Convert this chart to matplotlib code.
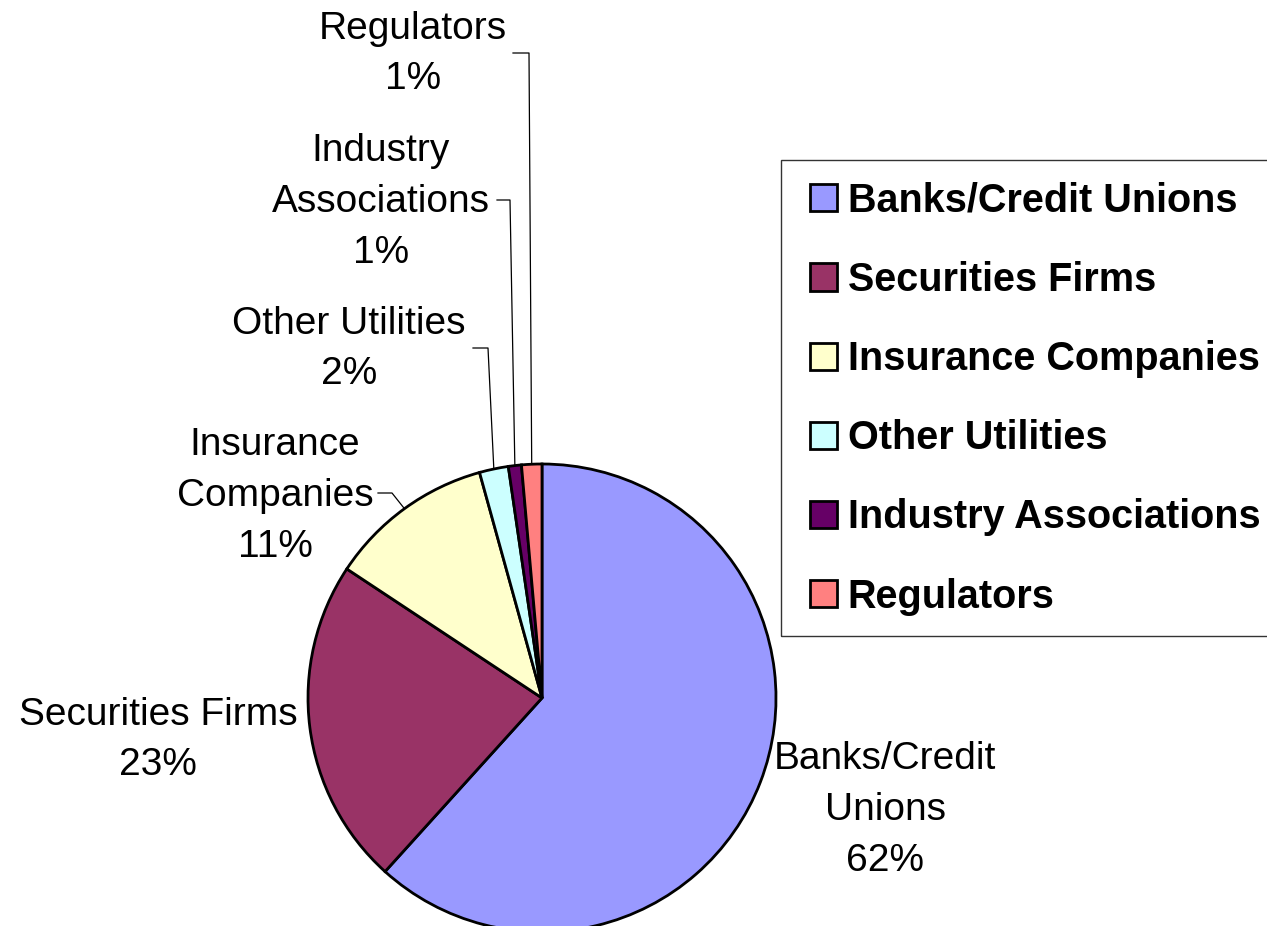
import numpy as np
import matplotlib
matplotlib.use("Agg")
import matplotlib.pyplot as plt
from matplotlib.patches import Rectangle

plt.rcParams['font.family'] = ['Liberation Sans', 'DejaVu Sans']

categories = ["Banks/Credit Unions", "Securities Firms", "Insurance Companies",
              "Other Utilities", "Industry Associations", "Regulators"]
shares = [61.7, 22.6, 11.4, 2.0, 0.9, 1.4]
pie_labels = ["Banks/Credit\nUnions", "Securities Firms", "Insurance\nCompanies",
              "Other Utilities", "Industry\nAssociations", "Regulators"]
colors = ["#9999FF", "#993366", "#FFFFCC", "#CCFFFF", "#660066", "#FF8080"]

W, H = 1267, 926
CX, CY, R = 542, 698, 234


def px(x, y):
    # pixel position -> data coords (pie radius = 1)
    return (x - CX) / R, (CY - y) / R


fig = plt.figure(figsize=(W / 100, H / 100), dpi=100)
ax = fig.add_axes([0, 0, 1, 1])

wedges, _ = ax.pie(shares, colors=colors, startangle=90, counterclock=False,
                   radius=1, center=(0, 0), frame=True,
                   wedgeprops=dict(edgecolor='black', linewidth=2))
ax.set_xlim(px(0, 0)[0], px(W, 0)[0])
ax.set_ylim(px(0, H)[1], px(0, 0)[1])
ax.set_aspect('equal')
ax.axis('off')

# label centres (pixels) and leader lines (start, elbow) for the small slices
label_pos = [(885, 810), (158, 740), (275, 496), (349, 349), (381, 202), (413, 54)]
leaders = {2: [(378, 493), (392, 493)],
           3: [(473, 348), (488, 348)],
           4: [(497, 200), (510, 200)],
           5: [(513, 53), (529, 53)]}

for i, (txt, v) in enumerate(zip(pie_labels, shares)):
    x, y = px(*label_pos[i])
    ax.text(x, y, f"{txt}\n{round(v):d}%", ha='center', va='center',
            multialignment='center', fontsize=28, linespacing=1.52)
    if i in leaders:
        w = wedges[i]
        ang = np.deg2rad((w.theta1 + w.theta2) / 2)
        ex, ey = np.cos(ang), np.sin(ang)
        (x0, y0), (x1, y1) = [px(*p) for p in leaders[i]]
        ax.plot([x0, x1, ex], [y0, y1, ey], color='black', lw=0.9)

# legend frame runs off the right edge, drawn separately
fig.patches.append(Rectangle((781 / W, 1 - 636 / H), 600 / W, 476 / H,
                             transform=fig.transFigure, fill=False,
                             edgecolor='#333333', linewidth=1.0))
leg = fig.legend(wedges, categories, loc='upper left',
                 bbox_to_anchor=(788 / W, 1 - 160 / H), borderaxespad=0,
                 prop=dict(weight='bold', size=28.5), frameon=False,
                 handlelength=0.68, handleheight=0.68, handletextpad=0.28,
                 labelspacing=1.04, borderpad=0.55)

fig.savefig("out.png", dpi=100)
